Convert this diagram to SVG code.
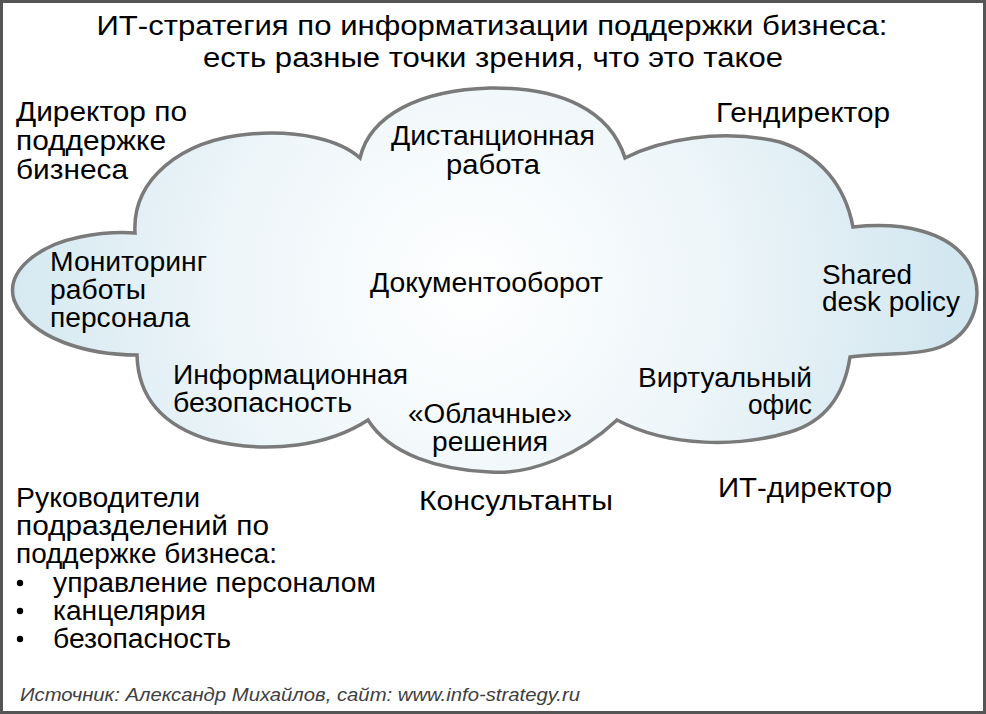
<svg xmlns="http://www.w3.org/2000/svg" width="986" height="714" viewBox="0 0 986 714">
<defs>
<radialGradient id="cg" gradientUnits="userSpaceOnUse" cx="470" cy="285" r="480">
<stop offset="0" stop-color="#ffffff"/>
<stop offset="0.5" stop-color="#eef6f9"/>
<stop offset="1" stop-color="#d3e7f0"/>
</radialGradient>
</defs>
<style>
text{font-family:"Liberation Sans",Arial,sans-serif;fill:#000;}
.t{font-size:27px;}
.b{font-size:27px;}
.c{text-anchor:middle;}
.r{text-anchor:end;}
.src{font-size:18px;font-style:italic;fill:#404040;}
</style>
<rect x="0" y="0" width="986" height="714" fill="#ffffff"/>
<rect x="1.5" y="1.5" width="983" height="711" fill="none" stroke="#555555" stroke-width="3"/>
<g id="title">
<text class="t c" x="492" y="34.5" textLength="791" lengthAdjust="spacingAndGlyphs">ИТ-стратегия по информатизации поддержки бизнеса:</text>
<text class="t c" x="493" y="67" textLength="580" lengthAdjust="spacingAndGlyphs">есть разные точки зрения, что это такое</text>
</g>
<g id="cloud">
<path d="M135,233 C132,180 180,140 250,134 C300,130 340,140 360,158 C370,115 420,90 490,88 C560,87 610,110 625,158 C660,140 720,128 780,142 C820,155 845,185 853,227 C900,222 950,230 970,265 C985,295 975,330 945,345 C920,357 880,352 850,357 C845,390 830,420 790,432 C740,447 670,448 617,420 C580,455 530,475 490,472 C440,470 390,455 368,420 C330,445 270,455 210,440 C160,425 138,395 137,355 C90,355 30,340 14,300 C5,270 40,245 80,237 C100,233 120,232 135,233 Z" fill="url(#cg)" stroke="#7a7a7a" stroke-width="3.5" stroke-linejoin="miter"/>
</g>
<g id="director-support">
<text class="b" x="16" y="121" textLength="171" lengthAdjust="spacingAndGlyphs">Директор по</text>
<text class="b" x="16" y="150" textLength="150" lengthAdjust="spacingAndGlyphs">поддержке</text>
<text class="b" x="16" y="179" textLength="112" lengthAdjust="spacingAndGlyphs">бизнеса</text>
</g>
<g id="gendirector">
<text class="b" x="716" y="122" textLength="174" lengthAdjust="spacingAndGlyphs">Гендиректор</text>
</g>
<g id="remote-work">
<text class="b c" x="493" y="145" textLength="204" lengthAdjust="spacingAndGlyphs">Дистанционная</text>
<text class="b c" x="493" y="174" textLength="94" lengthAdjust="spacingAndGlyphs">работа</text>
</g>
<g id="monitoring">
<text class="b" x="50" y="271" textLength="157" lengthAdjust="spacingAndGlyphs">Мониторинг</text>
<text class="b" x="50" y="299" textLength="96" lengthAdjust="spacingAndGlyphs">работы</text>
<text class="b" x="50" y="327" textLength="140" lengthAdjust="spacingAndGlyphs">персонала</text>
</g>
<g id="docflow">
<text class="b" x="370" y="292" textLength="233" lengthAdjust="spacingAndGlyphs">Документооборот</text>
</g>
<g id="shared-desk">
<text class="b" x="822" y="284" textLength="90" lengthAdjust="spacingAndGlyphs">Shared</text>
<text class="b" x="822" y="311" textLength="138" lengthAdjust="spacingAndGlyphs">desk policy</text>
</g>
<g id="infosec">
<text class="b" x="173" y="384" textLength="235" lengthAdjust="spacingAndGlyphs">Информационная</text>
<text class="b" x="173" y="412" textLength="179" lengthAdjust="spacingAndGlyphs">безопасность</text>
</g>
<g id="cloud-solutions">
<text class="b c" x="490" y="423" textLength="164" lengthAdjust="spacingAndGlyphs">«Облачные»</text>
<text class="b c" x="490" y="451" textLength="116" lengthAdjust="spacingAndGlyphs">решения</text>
</g>
<g id="virtual-office">
<text class="b r" x="812" y="387" textLength="174" lengthAdjust="spacingAndGlyphs">Виртуальный</text>
<text class="b r" x="812" y="414" textLength="64" lengthAdjust="spacingAndGlyphs">офис</text>
</g>
<g id="consultants">
<text class="b" x="419" y="510" textLength="194" lengthAdjust="spacingAndGlyphs">Консультанты</text>
</g>
<g id="it-director">
<text class="b" x="718" y="497" textLength="174" lengthAdjust="spacingAndGlyphs">ИТ-директор</text>
</g>
<g id="unit-heads">
<text class="b" x="16" y="507" textLength="184" lengthAdjust="spacingAndGlyphs">Руководители</text>
<text class="b" x="16" y="535" textLength="253" lengthAdjust="spacingAndGlyphs">подразделений по</text>
<text class="b" x="16" y="563" textLength="261" lengthAdjust="spacingAndGlyphs">поддержке бизнеса:</text>
<circle cx="20" cy="583" r="3.2" fill="#000"/>
<text class="b" x="53" y="592" textLength="323" lengthAdjust="spacingAndGlyphs">управление персоналом</text>
<circle cx="20" cy="611" r="3.2" fill="#000"/>
<text class="b" x="53" y="620" textLength="153" lengthAdjust="spacingAndGlyphs">канцелярия</text>
<circle cx="20" cy="639" r="3.2" fill="#000"/>
<text class="b" x="53" y="648" textLength="178" lengthAdjust="spacingAndGlyphs">безопасность</text>
</g>
<g id="source">
<text class="src" x="20" y="701" textLength="560" lengthAdjust="spacingAndGlyphs">Источник: Александр Михайлов, сайт: www.info-strategy.ru</text>
</g>
</svg>
